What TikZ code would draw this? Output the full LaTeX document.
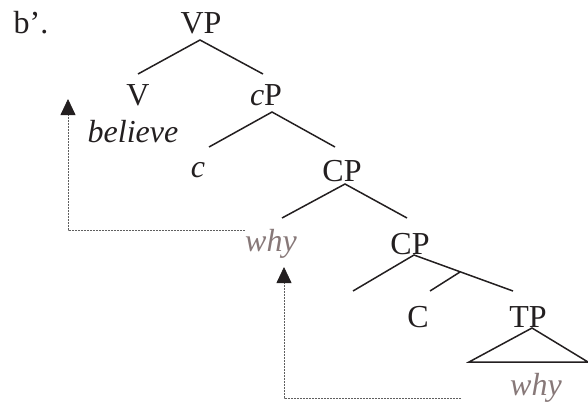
\documentclass[tikz,border=0pt]{standalone}
\usepackage{fontspec}
\setmainfont{Liberation Serif}
\usetikzlibrary{arrows.meta}
\definecolor{ink}{RGB}{35,31,32}
\definecolor{whyc}{RGB}{135,120,120}
\definecolor{dashc}{RGB}{95,95,95}
\begin{document}
\begin{tikzpicture}[x=1pt,y=-1pt,
  lbl/.style={anchor=base,inner sep=0pt,text=ink,font=\fontsize{32}{34}\selectfont},
  whylbl/.style={lbl,text=whyc,font=\fontsize{32}{34}\selectfont\itshape},
  branch/.style={draw=ink,line width=1.5pt},
  trace/.style={draw=dashc,line width=0.8pt,dash pattern=on 1.6pt off 1.4pt},
  tracearrow/.style={trace,-{Triangle[width=15pt,length=16pt,fill=ink,color=ink]}}]
\useasboundingbox (0,0) rectangle (588,405);
% labels
\node[lbl] (ex) at (31,33) {b’.};
\node[lbl] (VP) at (201,33) {VP};
\node[lbl] (V) at (138,105) {V};
\node[lbl] (cP) at (266,105) {\textit{c}P};
\node[lbl] (believe) at (133,142) {\textit{believe}};
\node[lbl] (c) at (198,177) {\textit{c}};
\node[lbl] (CP1) at (342,181) {CP};
\node[whylbl] (why1) at (271,251) {why};
\node[lbl] (CP2) at (410,254) {CP};
\node[lbl] (C) at (418,327) {C};
\node[lbl] (TP) at (528,327) {TP};
\node[whylbl] (why2) at (536,395) {why};
% branch points
\coordinate (vpA) at (200,40);  \coordinate (vpL) at (138,74);  \coordinate (vpR) at (263,74);
\coordinate (cpA) at (272,112); \coordinate (cpL) at (209,147); \coordinate (cpR) at (335,147);
\coordinate (CPA) at (345,184); \coordinate (CPL) at (282,218); \coordinate (CPR) at (407,218);
\coordinate (CQA) at (414,255); \coordinate (CQL) at (353,291); \coordinate (CQR) at (513,291);
\coordinate (CQM) at (460,272); \coordinate (CQC) at (430,291);
\coordinate (TPA) at (532,328); \coordinate (TPL) at (469,362); \coordinate (TPR) at (588,362);
\draw[branch] (vpL) -- (vpA) -- (vpR);
\draw[branch] (cpL) -- (cpA) -- (cpR);
\draw[branch] (CPL) -- (CPA) -- (CPR);
\draw[branch] (CQL) -- (CQA) -- (CQR);
\draw[branch] (CQM) -- (CQC);
\draw[branch,line join=miter] (TPL) -- (TPA) -- (TPR) -- cycle;
% traces
\coordinate (t1s) at (245,230); \coordinate (t1c) at (68,230); \coordinate (t1e) at (68,99);
\coordinate (t2s) at (461,398); \coordinate (t2c) at (284,398); \coordinate (t2e) at (284,267);
\draw[tracearrow] (t1s) -- (t1c) -- (t1e);
\draw[tracearrow] (t2s) -- (t2c) -- (t2e);
\end{tikzpicture}
\end{document}
